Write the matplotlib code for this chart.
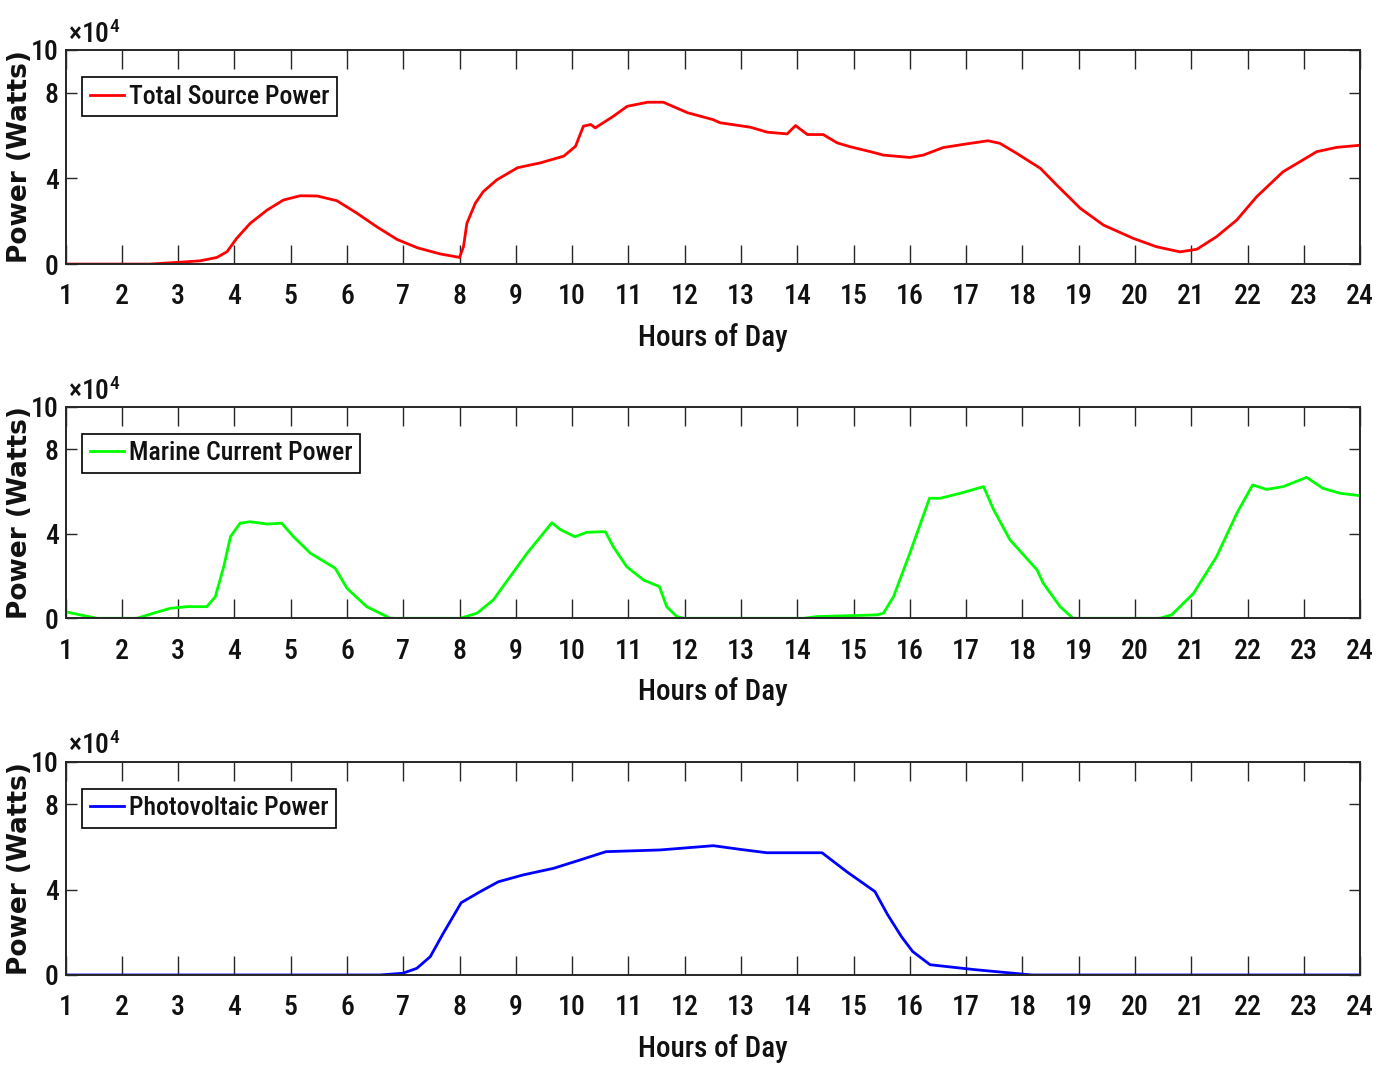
"""Daily power profiles: total source, marine current and photovoltaic."""

import matplotlib

matplotlib.use("Agg")
import matplotlib.pyplot as plt

COND_FONT = "Roboto Condensed"
plt.rcParams["font.family"] = [COND_FONT, "DejaVu Sans"]
plt.rcParams["font.weight"] = 500
plt.rcParams["mathtext.fontset"] = "custom"
plt.rcParams["mathtext.rm"] = COND_FONT

# values in units of 1e4 W
total_hours = [1.0, 2.0, 2.5, 3.0, 3.39, 3.69, 3.87, 4.04, 4.28, 4.58, 4.87, 5.17, 5.47,
               5.82, 6.18, 6.53, 6.89, 7.25, 7.66, 8.0, 8.07, 8.13, 8.28, 8.42, 8.66,
               9.03, 9.44, 9.85, 10.06, 10.2, 10.33, 10.41, 10.73, 10.98, 11.34, 11.62,
               12.05, 12.5, 12.63, 13.17, 13.47, 13.82, 13.97, 14.18, 14.46, 14.71, 14.94,
               15.3, 15.53, 16.0, 16.24, 16.59, 17.0, 17.39, 17.6, 17.9, 18.32, 18.61,
               19.03, 19.44, 19.97, 20.38, 20.8, 21.1, 21.45, 21.81, 22.16, 22.63, 23.23,
               23.58, 24.0]
total_power = [0.0, 0.0, 0.0, 0.08, 0.15, 0.31, 0.58, 1.2, 1.9, 2.52, 2.99, 3.19, 3.18,
               2.96, 2.37, 1.74, 1.15, 0.76, 0.47, 0.31, 0.81, 1.9, 2.84, 3.38, 3.93,
               4.5, 4.73, 5.04, 5.5, 6.44, 6.52, 6.36, 6.9, 7.37, 7.56, 7.56,
               7.07, 6.75, 6.6, 6.39, 6.16, 6.08, 6.47, 6.05, 6.05, 5.66, 5.48,
               5.25, 5.09, 4.98, 5.09, 5.44, 5.61, 5.76, 5.64, 5.17, 4.47, 3.69,
               2.6, 1.82, 1.2, 0.81, 0.57, 0.69, 1.28, 2.06, 3.14, 4.31, 5.25,
               5.45, 5.55]

marine_hours = [1.0, 1.26, 1.56, 2.27, 2.56, 2.86, 3.16, 3.51, 3.66, 3.81, 3.93, 4.1, 4.28,
                4.58, 4.84, 5.05, 5.35, 5.79, 6.0, 6.35, 6.77, 8.01, 8.31, 8.6, 9.2, 9.64,
                9.79, 10.05, 10.26, 10.59, 10.73, 10.97, 11.27, 11.55, 11.68, 11.86, 11.98,
                14.11, 14.35, 15.41, 15.53, 15.71, 16.0, 16.35, 16.54, 16.9, 17.31, 17.49,
                17.78, 18.26, 18.37, 18.67, 18.9, 20.44, 20.65, 21.04, 21.45, 21.81, 22.09,
                22.34, 22.63, 23.05, 23.34, 23.64, 24.0]
marine_power = [0.31, 0.16, 0.0, 0.0, 0.24, 0.47, 0.55, 0.55, 1.02, 2.44, 3.86, 4.5, 4.57,
                4.46, 4.5, 3.86, 3.08, 2.37, 1.42, 0.55, 0.0, 0.0, 0.24, 0.87, 3.08, 4.52,
                4.2, 3.86, 4.07, 4.1, 3.39, 2.44, 1.81, 1.5, 0.55, 0.08, 0.0,
                0.0, 0.08, 0.16, 0.24, 1.02, 3.08, 5.68, 5.68, 5.92, 6.23, 5.13,
                3.71, 2.29, 1.66, 0.55, 0.0, 0.0, 0.16, 1.18, 2.92, 4.97, 6.31,
                6.1, 6.23, 6.67, 6.15, 5.92, 5.8]

pv_hours = [1.0, 6.59, 6.99, 7.24, 7.48, 7.71, 8.03, 8.37, 8.69, 9.13, 9.67, 10.14, 10.6,
            11.56, 12.51, 12.98, 13.46, 14.44, 14.88, 15.38, 15.6, 15.85, 16.05, 16.36,
            17.15, 18.17, 24.0]
pv_power = [0.0, 0.0, 0.08, 0.31, 0.86, 1.95, 3.39, 3.91, 4.37, 4.69, 5.0, 5.39, 5.78,
            5.86, 6.06, 5.89, 5.73, 5.73, 4.84, 3.91, 2.85, 1.8, 1.1, 0.48,
            0.25, 0.0, 0.0]

hour_ticks = list(range(1, 25))
power_ticks = [0, 4, 8, 10]

AXES_COLOR = "#262626"
TEXT_COLOR = "#111111"
panels = [
    # (axes rect, hours, power, colour, legend label)
    ([0.0472, 0.7523, 0.9320, 0.2008], total_hours, total_power, "#ff0000", "Total Source Power"),
    ([0.0472, 0.4200, 0.9320, 0.1982], marine_hours, marine_power, "#00ff00", "Marine Current Power"),
    ([0.0472, 0.0854, 0.9320, 0.2001], pv_hours, pv_power, "#0000ff", "Photovoltaic Power"),
]


def draw_panel(fig, rect, hours, power, color, label):
    """One power-vs-hour panel in MATLAB look."""
    ax = fig.add_axes(rect)
    ax.plot(hours, power, color=color, linewidth=2.0, label=label)
    ax.set_xlim(1, 24)
    ax.set_ylim(0, 10)
    ax.set_xticks(hour_ticks)
    ax.set_yticks(power_ticks)
    ax.tick_params(axis="x", direction="in", length=14, width=1.0, top=True,
                   labelsize=20, pad=14, color=AXES_COLOR, labelcolor=TEXT_COLOR)
    ax.tick_params(axis="y", direction="in", length=8, width=1.0, right=True,
                   labelsize=20, pad=5, color=AXES_COLOR, labelcolor=TEXT_COLOR)
    for spine in ax.spines.values():
        spine.set_color(AXES_COLOR)
        spine.set_linewidth(1.4)

    ax.set_xlabel("Hours of Day", fontsize=21, fontweight=500, color=TEXT_COLOR, labelpad=9)
    ax.set_ylabel("Power (Watts)", fontsize=19, fontweight="bold", family="DejaVu Sans",
                  color=TEXT_COLOR)
    ax.yaxis.set_label_coords(-0.025, 0.5)
    ax.text(0.002, 1.035, r"$\mathregular{\times10^{4}}$", transform=ax.transAxes,
            fontsize=20, color=TEXT_COLOR, ha="left", va="baseline")

    leg = ax.legend(loc="upper left", bbox_to_anchor=(0.013, 0.874), borderaxespad=0,
                    fontsize=18.5, handlelength=1.3, handletextpad=0.2, borderpad=0.3,
                    fancybox=False, framealpha=1, labelcolor=TEXT_COLOR)
    leg.get_frame().set_edgecolor("black")
    leg.get_frame().set_linewidth(1.2)
    return ax


def main():
    fig = plt.figure(figsize=(13.89, 10.66), dpi=100)
    for rect, hours, power, color, label in panels:
        draw_panel(fig, rect, hours, power, color, label)
    fig.savefig("out.png", dpi=100)
    plt.close(fig)


if __name__ == "__main__":
    main()
